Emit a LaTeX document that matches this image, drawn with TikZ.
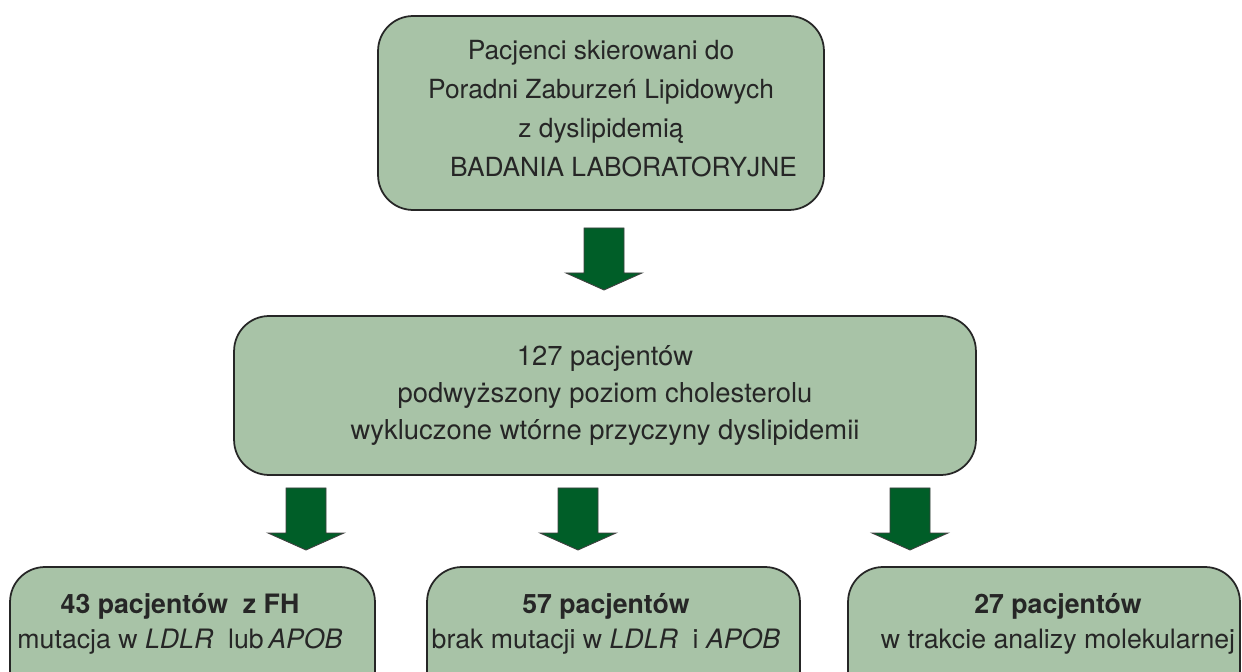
\documentclass[tikz,border=0pt]{standalone}
\usepackage{fontspec}
\setmainfont{TeX Gyre Heros}

\definecolor{boxgreen}{RGB}{168,195,167}
\definecolor{arrowgreen}{RGB}{0,94,40}

\tikzset{
    box/.style={draw=black!85, line width=1pt, fill=boxgreen, rounded corners=0.7cm, inner sep=0pt},
    boxtext/.style={align=center, text=black!85, font=\fontsize{15}{22.2}\selectfont},
    midtext/.style={align=center, text=black!85, font=\fontsize{15.6}{21.2}\selectfont},
    smalltext/.style={align=center, text=black!85, font=\fontsize{15.2}{19.9}\selectfont},
    fatarrow/.pic={
        \filldraw[fill=arrowgreen, draw=black!75, line width=0.5pt]
            (-20,0) -- (20,0) -- (20,45) -- (38,45) -- (0,62) -- (-38,45) -- (-20,45) -- cycle;
    }
}

\begin{document}
\begin{tikzpicture}[x=0.02cm, y=-0.02cm]
    \useasboundingbox (0,0) rectangle (1242,672);
    \clip (0,0) rectangle (1242,672);

    % boxes
    \node[box, boxtext, minimum width=8.92cm, minimum height=3.88cm] (start) at (601,113)
        {Pacjenci skierowani do\\ Poradni Zaburzeń Lipidowych\\ z dyslipidemią\\ \hspace*{0.9cm}BADANIA LABORATORYJNE\\[-0.58cm]};
    \node[box, midtext, minimum width=14.84cm, minimum height=3.18cm] (all) at (605,395.5)
        {127 pacjentów\\ podwyższony poziom cholesterolu\\ wykluczone wtórne przyczyny dyslipidemii};
    \node[box, minimum width=7.3cm, minimum height=3.06cm] (fh) at (192.5,643.5) {};
    \node[box, minimum width=7.46cm, minimum height=3.06cm] (nomut) at (613.5,643.5) {};
    \node[box, minimum width=7.84cm, minimum height=3.06cm] (pending) at (1044,643.5) {};

    % texts of the lower boxes
    \node[smalltext] (fhtext) at (180,624)
        {\textbf{43 pacjentów\ \ z FH}\\ mutacja w \textit{LDLR}\ \ lub\,\textit{APOB}};
    \node[smalltext] (nomuttext) at (606,624)
        {\textbf{57 pacjentów}\\ brak mutacji w \textit{LDLR}\ \ i \textit{APOB}};
    \node[smalltext] (pendingtext) at (1058,624)
        {\textbf{27 pacjentów}\\ w trakcie analizy molekularnej};

    % arrows
    \coordinate (a0) at (604,228);
    \coordinate (a1) at (306,488);
    \coordinate (a2) at (578,488);
    \coordinate (a3) at (910,488);
    \pic (arr0) at (a0) {fatarrow};
    \pic (arr1) at (a1) {fatarrow};
    \pic (arr2) at (a2) {fatarrow};
    \pic (arr3) at (a3) {fatarrow};
\end{tikzpicture}
\end{document}
